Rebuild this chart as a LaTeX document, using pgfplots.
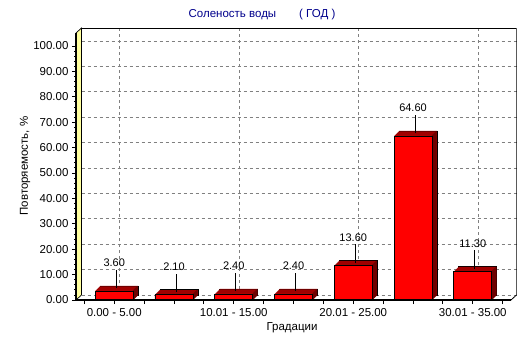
\documentclass[border=0pt]{standalone}
\usepackage{fontspec}
\setmainfont{Liberation Sans}
\usepackage{pgfplots}
\usepackage{pgfplotstable}
\pgfplotsset{compat=1.18}
\definecolor{barfront}{RGB}{255,0,0}
\definecolor{bartop}{RGB}{160,0,0}
\definecolor{barside}{RGB}{110,0,0}
\definecolor{wallyellow}{RGB}{255,255,160}
\definecolor{titleblue}{RGB}{0,0,140}
\definecolor{gridgray}{RGB}{128,128,128}

\pgfplotstableread{
x y
0 3.6
1 2.1
2 2.4
3 2.4
4 13.6
5 64.6
6 11.3
}\datatable

\begin{document}
\begin{tikzpicture}[x=1pt,y=1pt]
\path[use as bounding box, fill=white] (0,0) rectangle (532,343);
% back wall with grid
\begin{axis}[
  at={(81.5pt,48pt)}, anchor=south west,
  scale only axis, width=435pt, height=267pt,
  xmin=-0.64, xmax=6.64, ymin=0, ymax=105.1,
  xtick={0,2,4,6}, ytick={0,10,...,100},
  xticklabels={}, yticklabels={},
  major tick length=0pt,
  tick style={draw=none},
  grid=major,
  grid style={gridgray, dash pattern=on 3pt off 3pt, line width=0.7pt},
  axis line style={draw=none},
]
\draw[black, line width=0.8pt] (rel axis cs:0,0) -- (rel axis cs:0,1) -- (rel axis cs:1,1) -- (rel axis cs:1,0);
\end{axis}
% front
\begin{axis}[
  at={(76pt,43pt)}, anchor=south west,
  scale only axis, width=435pt, height=267pt,
  xmin=-0.64, xmax=6.64, ymin=0, ymax=105.1,
  clip=false, axis on top=true,
  axis x line*=bottom, axis y line*=left,
  axis line style={black, line width=1.6pt},
  tick align=outside,
  major tick length=4pt, minor tick length=2pt,
  every tick/.style={black, line width=0.8pt},
  xtick={-0.5,0,0.5,1,1.5,2,2.5,3,3.5,4,4.5,5,5.5,6,6.5},
  xticklabels={,0.00 - 5.00,,,,10.01 - 15.00,,,,20.01 - 25.00,,,,30.01 - 35.00,},
  ytick={0,10,...,100}, minor y tick num=4,
  /pgf/number format/assume math mode=true,
  yticklabel={\pgfmathprintnumber[fixed,fixed zerofill,precision=2]{\tick}},
  tick label style={font=\fontsize{11.5}{13}\selectfont},
  xticklabel style={yshift=-1pt},
]
% yellow side wall
\filldraw[fill=wallyellow, draw=black, line width=0.7pt] (rel axis cs:0,0) -- ([shift={(5.5pt,5pt)}]rel axis cs:0,0) -- ([shift={(5.5pt,5pt)}]rel axis cs:0,1) -- (rel axis cs:0,1) -- cycle;
% floor right edge
\draw[black, line width=0.8pt] (rel axis cs:1,0) -- ([shift={(5.5pt,5pt)}]rel axis cs:1,0);
% back copy with outline
\addplot[ybar, bar width=38pt, bar shift=0pt, fill=bartop, draw=black, line width=0.7pt, xshift=5pt, yshift=5pt, forget plot] table[x=x,y=y] {\datatable};
\pgfplotsinvokeforeach{4.5,4,3.5,3,2.5,2,1.5,1,0.5}{
  \addplot[ybar, bar width=38pt, bar shift=0pt, fill=bartop, draw=none, xshift=#1pt, yshift=#1pt, forget plot] table[x=x,y=y] {\datatable};
}
\pgfplotsinvokeforeach{0.5,1,1.5,2,2.5,3,3.5,4,4.5}{
  \addplot[ybar, bar width=1.2pt, bar shift=18.6pt, fill=barside, draw=none, xshift=#1pt, yshift=#1pt, forget plot] table[x=x,y=y] {\datatable};
}
% front faces with value labels
\addplot[ybar, bar width=38pt, bar shift=0pt, fill=barfront, draw=black, line width=0.7pt,
  nodes near coords={\pgfmathprintnumber[fixed,fixed zerofill,precision=2]{\pgfplotspointmeta}},
  every node near coord/.append style={anchor=center, yshift=28pt, font=\fontsize{11}{12}\selectfont, black}]
  table[x=x,y=y] {\datatable};
% leader lines
\addplot[draw=none, mark=none, xshift=2pt, yshift=2.5pt, forget plot,
  error bars/.cd, y dir=plus, y fixed=7.3, error mark=none,
  error bar style={draw=black, line width=0.8pt, solid}]
  table[x=x,y=y] {\datatable};
\end{axis}
\node[font=\fontsize{11.5}{13}\selectfont, text=titleblue] at (262pt,328pt) {Соленость воды\hspace{2em}( ГОД )};
\node[font=\fontsize{11.5}{13}\selectfont, rotate=90] at (25pt,177pt) {Повторяемость, \%};
\node[font=\fontsize{11.5}{13}\selectfont] at (292pt,15pt) {Градации};
\end{tikzpicture}
\end{document}
